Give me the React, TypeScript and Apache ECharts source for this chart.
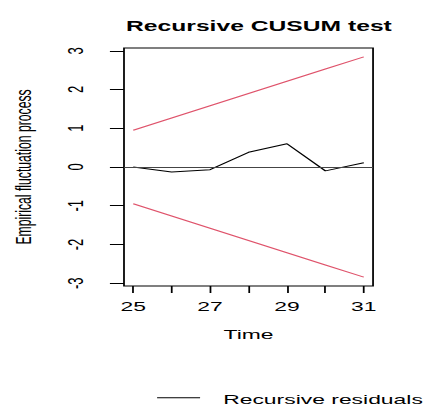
import React, { useEffect, useRef } from "react";
import * as echarts from "echarts";

// Data
const times = [25, 26, 27, 28, 29, 30, 31];
const residuals = [0.0, -0.13, -0.07, 0.38, 0.6, -0.1, 0.11];
const upperBound = [0.948, 1.264, 1.58, 1.896, 2.212, 2.528, 2.844];
const lowerBound = [-0.948, -1.264, -1.58, -1.896, -2.212, -2.528, -2.844];
const xTicks = [25, 26, 27, 28, 29, 30, 31];
const xLabels = [25, 27, 29, 31];
const yTicks = [-3, -2, -1, 0, 1, 2, 3];

const W = 243;
const H = 405;
const S = 428 / W;
const FONT = "'Liberation Sans', Arial, sans-serif";

export default function App() {
  const ref = useRef<HTMLDivElement>(null);
  useEffect(() => {
    const chart = echarts.init(ref.current!, null, { renderer: "svg" });
    const pairs = (ys: number[]) => times.map((t, i) => [t, ys[i]]);
    chart.setOption({
      animation: false,
      backgroundColor: "#ffffff",
      title: {
        text: "Recursive CUSUM test",
        left: 142,
        top: 14,
        textAlign: "center",
        textStyle: { fontFamily: FONT, fontSize: 14, fontWeight: "bold", color: "#000" },
      },
      grid: {
        left: 70.4,
        right: 31.2,
        top: 48,
        bottom: 119,
        show: true,
        borderColor: "#000",
        borderWidth: 1,
        backgroundColor: "transparent",
        containLabel: false,
        outerBoundsMode: "none",
      },
      xAxis: {
        type: "value",
        min: 24.76,
        max: 31.24,
        name: "Time",
        nameLocation: "middle",
        nameGap: 42,
        nameTextStyle: { fontFamily: FONT, fontSize: 13, color: "#000" },
        axisLine: { show: false, onZero: false },
        splitLine: { show: false },
        axisTick: { show: true, length: 7, customValues: xTicks, lineStyle: { color: "#000", width: 1 } },
        axisLabel: { customValues: xLabels, margin: 14, fontFamily: FONT, fontSize: 13, color: "#000" },
      },
      yAxis: {
        type: "value",
        min: -3.0715,
        max: 3.0715,
        name: "Empirical fluctuation process",
        nameLocation: "middle",
        nameRotate: 90,
        nameGap: 51,
        nameTextStyle: { fontFamily: FONT, fontSize: 12.2, color: "#000" },
        axisLine: { show: false, onZero: false },
        splitLine: { show: false },
        axisTick: { show: true, length: 8, customValues: yTicks, lineStyle: { color: "#000", width: 1 } },
        axisLabel: { customValues: yTicks, rotate: 90, margin: 21.5, fontFamily: FONT, fontSize: 13, color: "#000" },
      },
      series: [
        {
          name: "Recursive residuals",
          type: "line",
          data: pairs(residuals),
          showSymbol: false,
          symbol: "none",
          lineStyle: { color: "#000", width: 1 },
          silent: true,
          markLine: {
            silent: true,
            symbol: ["none", "none"],
            label: { show: false },
            lineStyle: { color: "#444", width: 1, type: "solid" },
            data: [{ yAxis: 0 }],
          },
        },
        {
          name: "upper",
          type: "line",
          data: pairs(upperBound),
          showSymbol: false,
          symbol: "none",
          lineStyle: { color: "#DF536B", width: 1 },
          silent: true,
        },
        {
          name: "lower",
          type: "line",
          data: pairs(lowerBound),
          showSymbol: false,
          symbol: "none",
          lineStyle: { color: "#DF536B", width: 1 },
          silent: true,
        },
      ],
      graphic: [
        {
          type: "line",
          shape: { x1: 89.2, y1: 397.7, x2: 113.6, y2: 397.7 },
          style: { stroke: "#000", lineWidth: 1 },
        },
        {
          type: "text",
          x: 126.7,
          y: 399,
          style: {
            text: "Recursive residuals",
            fontFamily: FONT,
            fontSize: 13,
            fill: "#000",
            textAlign: "left",
            textVerticalAlign: "middle",
          },
        },
      ],
    });
    return () => chart.dispose();
  }, []);
  return (
    <div
      ref={ref}
      style={{
        position: "absolute",
        left: 0,
        top: 0,
        width: W,
        height: H,
        transform: `scaleX(${S})`,
        transformOrigin: "0 0",
      }}
    />
  );
}
